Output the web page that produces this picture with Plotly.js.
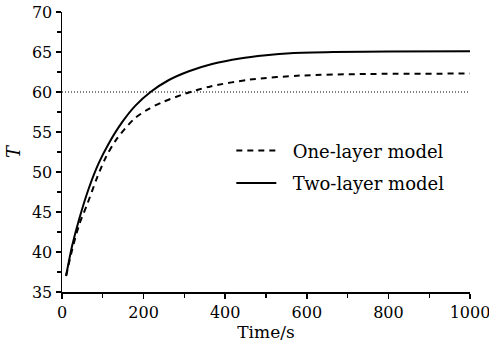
<!DOCTYPE html>
<html>
<head>
<meta charset="utf-8">
<script src="https://cdn.plot.ly/plotly-3.0.1.min.js"></script>
<style>html,body{margin:0;padding:0;background:#fff;}#chart{width:489px;height:351px;}</style>
</head>
<body>
<div id="chart"></div>
<script>
// Time (s) and temperature T for each model
var timeTwo = [10, 25, 42, 66, 90, 115, 147, 180, 217, 262, 311, 368, 436, 500, 560, 665, 800, 1000];
var tempTwo = [37.0, 40.8, 44.1, 48.0, 51.1, 53.6, 56.2, 58.3, 60.0, 61.5, 62.6, 63.5, 64.2, 64.6, 64.85, 65.0, 65.05, 65.1];
var timeOne = [10, 25, 42, 62, 86, 107, 131, 176, 213, 245, 302, 364, 461, 583, 747, 1000];
var tempOne = [37.0, 40.3, 43.4, 46.0, 49.3, 51.8, 53.9, 56.6, 57.9, 58.7, 59.8, 60.7, 61.55, 62.05, 62.25, 62.3];
var refLevel = 60;
var xTicks = [0, 200, 400, 600, 800, 1000];
var yTicks = [35, 40, 45, 50, 55, 60, 65, 70];

var serif = "'DejaVu Serif', serif";

var traces = [
  {x: timeOne, y: tempOne, type: 'scatter', mode: 'lines', name: '\u00a0\u00a0One-layer model', legendgroup: 'a',
   line: {color: '#000', width: 2, dash: '6px,5px', shape: 'spline', smoothing: 0.8}},
  {x: timeTwo, y: tempTwo, type: 'scatter', mode: 'lines', name: '\u00a0\u00a0Two-layer model', legendgroup: 'b',
   line: {color: '#000', width: 2, shape: 'spline', smoothing: 0.8}}
];

var layout = {
  width: 489, height: 351,
  margin: {l: 62, r: 19, t: 12, b: 59},
  paper_bgcolor: '#fff', plot_bgcolor: '#fff',
  font: {family: serif, size: 16, color: '#000'},
  showlegend: true,
  legend: {x: 0.415, y: 0.57, xanchor: 'left', yanchor: 'top', bgcolor: 'rgba(0,0,0,0)',
           traceorder: 'grouped', tracegroupgap: 6, itemwidth: 40,
           font: {family: serif, size: 18, color: '#000'}},
  xaxis: {range: [0, 1000], tickvals: xTicks, ticktext: xTicks.map(String),
          showgrid: false, zeroline: false, showline: true, linecolor: '#000', linewidth: 1.5,
          ticks: 'outside', ticklen: 5, tickcolor: '#000', tickwidth: 1.5,
          ticklabeloverflow: 'allow',
          tickfont: {family: serif, size: 16},
          minor: {dtick: 100, ticks: 'outside', ticklen: 4, tickcolor: '#000', tickwidth: 1.2},
          title: {text: 'Time/s', standoff: 0, font: {family: serif, size: 17}}},
  yaxis: {range: [35, 70], tickvals: yTicks, ticktext: yTicks.map(String),
          showgrid: false, zeroline: false, showline: true, linecolor: '#000', linewidth: 1.5,
          ticks: 'outside', ticklen: 5, tickcolor: '#000', tickwidth: 1.5,
          tickfont: {family: serif, size: 16},
          minor: {dtick: 2.5, ticks: 'outside', ticklen: 4, tickcolor: '#000', tickwidth: 1.2},
          title: {text: '<i>T</i>', standoff: 6, font: {family: serif, size: 18}}},
  shapes: [{type: 'line', xref: 'paper', x0: 0, x1: 1, yref: 'y', y0: refLevel, y1: refLevel,
            line: {color: '#000', width: 1, dash: '1px,2px'}}]
};

Plotly.newPlot('chart', traces, layout, {displayModeBar: false, staticPlot: true});
</script>
</body>
</html>
